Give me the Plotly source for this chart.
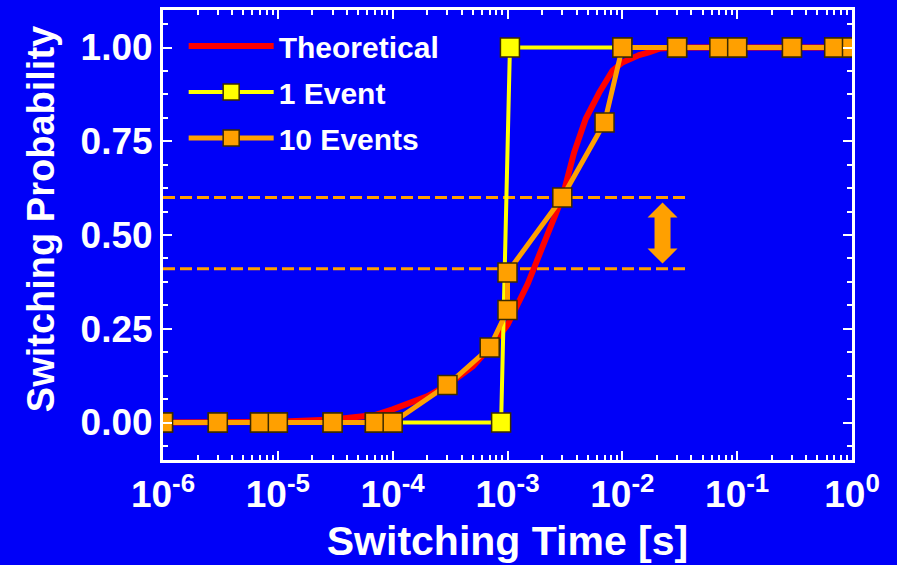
import plotly.graph_objects as go

# Switching time (s) and switching probability for each series
t_theory = [1e-6, 1e-5, 3e-5, 7e-5, 1e-4, 2e-4, 3e-4, 5e-4, 7e-4, 1e-3, 1.5e-3,
            2e-3, 3e-3, 3.8e-3, 4.8e-3, 6.3e-3, 8.2e-3, 1e-2, 1.4e-2, 1.7e-2,
            2.1e-2, 3e-2, 1.0]
p_theory = [0.0, 0.002, 0.008, 0.02, 0.035, 0.07, 0.1, 0.15, 0.2, 0.26, 0.37,
            0.47, 0.6, 0.72, 0.81, 0.88, 0.938, 0.96, 0.98, 0.987,
            0.997, 1.0, 1.0]

t_one = [1e-6, 3e-6, 7e-6, 1e-5, 3e-5, 7e-5, 1e-4, 8.8e-4, 1.05e-3,
         1e-2, 3e-2, 7e-2, 1e-1, 3e-1, 7e-1, 1.0]
p_one = [0, 0, 0, 0, 0, 0, 0, 0, 1, 1, 1, 1, 1, 1, 1, 1]

t_ten = [1e-6, 3e-6, 7e-6, 1e-5, 3e-5, 7e-5, 1e-4, 3e-4, 7e-4, 1e-3, 1e-3,
         3e-3, 7e-3, 1e-2, 3e-2, 7e-2, 1e-1, 3e-1, 7e-1, 1.0]
p_ten = [0, 0, 0, 0, 0, 0, 0, 0.1, 0.2, 0.3, 0.4,
         0.6, 0.8, 1, 1, 1, 1, 1, 1, 1]

# Spread band of the 10-event estimate
band_t = [1e-6, 3.7e-2]
band_levels = [0.41, 0.6]

x_tickvals = [1e-6, 1e-5, 1e-4, 1e-3, 1e-2, 1e-1, 1.0]
x_ticktext = ["10<sup>-6</sup>", "10<sup>-5</sup>", "10<sup>-4</sup>", "10<sup>-3</sup>",
              "10<sup>-2</sup>", "10<sup>-1</sup>", "10<sup>0</sup>"]
y_tickvals = [0, 0.25, 0.5, 0.75, 1.0]

BG = "#0000F8"
WHITE = "white"
FONT = "Liberation Sans, Arial, sans-serif"

fig = go.Figure()

for lvl in band_levels:
    fig.add_trace(go.Scatter(
        x=band_t, y=[lvl, lvl], mode="lines", showlegend=False, hoverinfo="skip",
        line=dict(color="#FFA000", width=3, dash="12px,5px"),
    ))

fig.add_trace(go.Scatter(
    x=t_theory, y=p_theory, mode="lines", name="Theoretical", legendgroup="a",
    line=dict(color="#FF0000", width=6),
))
fig.add_trace(go.Scatter(
    x=t_one, y=p_one, mode="lines+markers", name="1 Event", legendgroup="b",
    line=dict(color="#FFFF00", width=4),
    marker=dict(symbol="square", size=19, color="#FFFF00",
                line=dict(color="#3A2A00", width=1.5)),
))
fig.add_trace(go.Scatter(
    x=t_ten, y=p_ten, mode="lines+markers", name="10 Events", legendgroup="c",
    line=dict(color="#FFA000", width=5),
    marker=dict(symbol="square", size=19, color="#FFA000",
                line=dict(color="#3A2A00", width=1.5)),
))

# Double-headed arrow marking the spread between the dashed levels
fig.add_shape(
    type="path", xref="paper", yref="y",
    xsizemode="pixel", ysizemode="pixel", xanchor=0.725, yanchor=0.505,
    path="M0,30.5 L15,15.5 L8,15.5 L8,-15.5 L15,-15.5 L0,-30.5 "
         "L-15,-15.5 L-8,-15.5 L-8,15.5 L-15,15.5 Z",
    fillcolor="#FFA000", line=dict(width=0),
)

axis_common = dict(
    showline=True, linecolor=WHITE, linewidth=3, mirror="ticks",
    ticks="inside", tickcolor=WHITE, tickwidth=2, ticklen=9,
    showgrid=False, zeroline=False,
)

fig.update_xaxes(
    type="log", range=[-6, 0],
    tickvals=x_tickvals, ticktext=x_ticktext,
    tickfont=dict(family=FONT, size=37, color=WHITE, weight="bold"),
    minor=dict(ticks="inside", ticklen=5, tickwidth=2, tickcolor=WHITE, dtick="D1"),
    title=dict(text="Switching Time [s]", standoff=12,
               font=dict(family=FONT, size=41, color=WHITE, weight="bold")),
    **axis_common,
)
fig.update_yaxes(
    range=[-0.1, 1.1],
    tickvals=y_tickvals, tickformat=".2f",
    tickfont=dict(family=FONT, size=37, color=WHITE, weight="bold"),
    minor=dict(ticks="inside", ticklen=5, tickwidth=2, tickcolor=WHITE,
               tick0=0, dtick=0.0625),
    **axis_common,
)

fig.add_annotation(
    text="Switching Probability", textangle=-90, showarrow=False,
    xref="paper", yref="paper", x=-0.178, y=0.536,
    xanchor="center", yanchor="middle",
    font=dict(family=FONT, size=38, color=WHITE, weight="bold"),
)

fig.update_layout(
    width=897, height=565,
    paper_bgcolor=BG, plot_bgcolor=BG,
    margin=dict(l=163, r=45, t=7, b=105),
    legend=dict(
        x=0.03, y=0.978, xanchor="left", yanchor="top",
        bgcolor="rgba(0,0,0,0)", borderwidth=0,
        font=dict(family=FONT, size=30, color=WHITE, weight="bold"),
        itemwidth=85, tracegroupgap=4,
    ),
    showlegend=True,
)

fig.write_html("out.html")
